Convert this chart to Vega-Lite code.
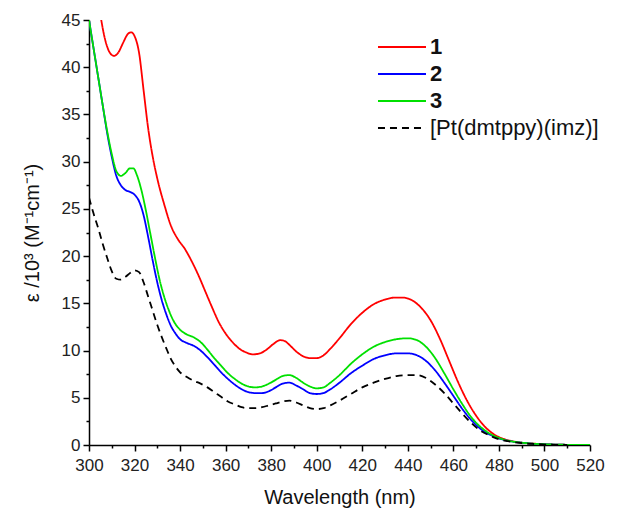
{
  "$schema": "https://vega.github.io/schema/vega-lite/v6.json",
  "width": 501,
  "height": 425,
  "autosize": "none",
  "padding": {"left": 89, "top": 20, "right": 42, "bottom": 67},
  "background": "white",
  "config": {
    "view": {"stroke": null},
    "axis": {
      "domainColor": "black", "domainWidth": 1.5, "tickColor": "black", "tickWidth": 1.5,
      "labelColor": "#222", "labelFont": "Liberation Sans", "labelFontSize": 17,
      "titleFont": "Liberation Sans", "titleFontSize": 20, "titleFontWeight": "normal", "titleColor": "#111",
      "grid": false
    },
    "legend": {"labelFont": "Liberation Sans", "labelFontSize": 22, "labelColor": "#111", "labelLimit": 300}
  },
  "data": {"values": [
    {"s":"1","x":302,"y":50},{"s":"1","x":305,"y":45.5},{"s":"1","x":307,"y":43},{"s":"1","x":309,"y":41.6},{"s":"1","x":311,"y":41.2},{"s":"1","x":313,"y":41.6},{"s":"1","x":315,"y":42.6},{"s":"1","x":317,"y":43.5},{"s":"1","x":318.5,"y":43.7},{"s":"1","x":320,"y":43.3},{"s":"1","x":322,"y":41.5},{"s":"1","x":324,"y":37.5},{"s":"1","x":326,"y":33.5},{"s":"1","x":328,"y":30.5},{"s":"1","x":330,"y":28.2},{"s":"1","x":333,"y":25.5},{"s":"1","x":336,"y":23.2},{"s":"1","x":339,"y":21.8},{"s":"1","x":342,"y":20.8},{"s":"1","x":345,"y":19.5},{"s":"1","x":348,"y":18},{"s":"1","x":351,"y":16.3},{"s":"1","x":354,"y":14.6},{"s":"1","x":357,"y":13},{"s":"1","x":360,"y":11.8},{"s":"1","x":363,"y":10.9},{"s":"1","x":366,"y":10.2},{"s":"1","x":369,"y":9.8},{"s":"1","x":372,"y":9.6},{"s":"1","x":375,"y":9.7},{"s":"1","x":378,"y":10.1},{"s":"1","x":381,"y":10.7},{"s":"1","x":384,"y":11.1},{"s":"1","x":386,"y":11.0},{"s":"1","x":388,"y":10.6},{"s":"1","x":391,"y":9.9},{"s":"1","x":394,"y":9.4},{"s":"1","x":397,"y":9.2},{"s":"1","x":400,"y":9.2},{"s":"1","x":403,"y":9.5},{"s":"1","x":406,"y":10.2},{"s":"1","x":410,"y":11.3},{"s":"1","x":415,"y":12.8},{"s":"1","x":420,"y":14.0},{"s":"1","x":425,"y":14.9},{"s":"1","x":430,"y":15.4},{"s":"1","x":434,"y":15.6},{"s":"1","x":438,"y":15.6},{"s":"1","x":442,"y":15.3},{"s":"1","x":446,"y":14.5},{"s":"1","x":450,"y":13.2},{"s":"1","x":454,"y":11.3},{"s":"1","x":458,"y":9.0},{"s":"1","x":462,"y":6.7},{"s":"1","x":466,"y":4.7},{"s":"1","x":470,"y":3.1},{"s":"1","x":474,"y":1.9},{"s":"1","x":478,"y":1.1},{"s":"1","x":482,"y":0.65},{"s":"1","x":486,"y":0.4},{"s":"1","x":490,"y":0.25},{"s":"1","x":495,"y":0.15},{"s":"1","x":500,"y":0.08},{"s":"1","x":505,"y":0.04},{"s":"1","x":510,"y":0.02},{"s":"1","x":515,"y":0},{"s":"1","x":520,"y":0},
    {"s":"2","x":300,"y":45},{"s":"2","x":302,"y":42},{"s":"2","x":304,"y":39},{"s":"2","x":306,"y":36},{"s":"2","x":308,"y":33},{"s":"2","x":310,"y":30.5},{"s":"2","x":312,"y":28.5},{"s":"2","x":314,"y":27.5},{"s":"2","x":316,"y":27.0},{"s":"2","x":318,"y":26.8},{"s":"2","x":320,"y":26.5},{"s":"2","x":322,"y":25.8},{"s":"2","x":324,"y":24.3},{"s":"2","x":326,"y":22},{"s":"2","x":328,"y":19.5},{"s":"2","x":330,"y":17.2},{"s":"2","x":332,"y":15.3},{"s":"2","x":334,"y":13.8},{"s":"2","x":336,"y":12.6},{"s":"2","x":338,"y":11.8},{"s":"2","x":340,"y":11.2},{"s":"2","x":343,"y":10.8},{"s":"2","x":346,"y":10.5},{"s":"2","x":349,"y":10.0},{"s":"2","x":352,"y":9.3},{"s":"2","x":355,"y":8.5},{"s":"2","x":358,"y":7.7},{"s":"2","x":361,"y":7.0},{"s":"2","x":364,"y":6.4},{"s":"2","x":367,"y":5.9},{"s":"2","x":370,"y":5.6},{"s":"2","x":373,"y":5.5},{"s":"2","x":376,"y":5.5},{"s":"2","x":379,"y":5.7},{"s":"2","x":382,"y":6.1},{"s":"2","x":385,"y":6.5},{"s":"2","x":388,"y":6.6},{"s":"2","x":391,"y":6.3},{"s":"2","x":394,"y":5.9},{"s":"2","x":397,"y":5.5},{"s":"2","x":400,"y":5.4},{"s":"2","x":403,"y":5.5},{"s":"2","x":406,"y":5.9},{"s":"2","x":410,"y":6.6},{"s":"2","x":415,"y":7.6},{"s":"2","x":420,"y":8.4},{"s":"2","x":425,"y":9.1},{"s":"2","x":430,"y":9.5},{"s":"2","x":435,"y":9.7},{"s":"2","x":440,"y":9.7},{"s":"2","x":444,"y":9.5},{"s":"2","x":448,"y":8.9},{"s":"2","x":452,"y":7.9},{"s":"2","x":456,"y":6.6},{"s":"2","x":460,"y":5.2},{"s":"2","x":464,"y":3.8},{"s":"2","x":468,"y":2.6},{"s":"2","x":472,"y":1.7},{"s":"2","x":476,"y":1.1},{"s":"2","x":480,"y":0.7},{"s":"2","x":484,"y":0.45},{"s":"2","x":488,"y":0.3},{"s":"2","x":492,"y":0.2},{"s":"2","x":496,"y":0.12},{"s":"2","x":500,"y":0.08},{"s":"2","x":505,"y":0.04},{"s":"2","x":510,"y":0.02},{"s":"2","x":515,"y":0},{"s":"2","x":520,"y":0},
    {"s":"3","x":300,"y":45},{"s":"3","x":302,"y":42},{"s":"3","x":304,"y":39},{"s":"3","x":306,"y":36},{"s":"3","x":308,"y":33.2},{"s":"3","x":310,"y":30.8},{"s":"3","x":312,"y":29.0},{"s":"3","x":314,"y":28.5},{"s":"3","x":316,"y":28.8},{"s":"3","x":318,"y":29.3},{"s":"3","x":319.5,"y":29.3},{"s":"3","x":321,"y":28.6},{"s":"3","x":323,"y":27},{"s":"3","x":325,"y":24.8},{"s":"3","x":327,"y":22.3},{"s":"3","x":329,"y":19.8},{"s":"3","x":331,"y":17.5},{"s":"3","x":333,"y":15.7},{"s":"3","x":335,"y":14.3},{"s":"3","x":337,"y":13.2},{"s":"3","x":340,"y":12.2},{"s":"3","x":343,"y":11.7},{"s":"3","x":346,"y":11.4},{"s":"3","x":349,"y":10.9},{"s":"3","x":352,"y":10.1},{"s":"3","x":355,"y":9.2},{"s":"3","x":358,"y":8.4},{"s":"3","x":361,"y":7.6},{"s":"3","x":364,"y":7.0},{"s":"3","x":367,"y":6.5},{"s":"3","x":370,"y":6.2},{"s":"3","x":373,"y":6.1},{"s":"3","x":376,"y":6.2},{"s":"3","x":379,"y":6.5},{"s":"3","x":382,"y":6.9},{"s":"3","x":385,"y":7.3},{"s":"3","x":388,"y":7.4},{"s":"3","x":391,"y":7.1},{"s":"3","x":394,"y":6.6},{"s":"3","x":397,"y":6.2},{"s":"3","x":400,"y":6.0},{"s":"3","x":403,"y":6.1},{"s":"3","x":406,"y":6.6},{"s":"3","x":410,"y":7.4},{"s":"3","x":415,"y":8.6},{"s":"3","x":420,"y":9.6},{"s":"3","x":425,"y":10.4},{"s":"3","x":430,"y":10.9},{"s":"3","x":435,"y":11.2},{"s":"3","x":440,"y":11.3},{"s":"3","x":444,"y":11.1},{"s":"3","x":448,"y":10.4},{"s":"3","x":452,"y":9.2},{"s":"3","x":456,"y":7.6},{"s":"3","x":460,"y":5.9},{"s":"3","x":464,"y":4.3},{"s":"3","x":468,"y":2.9},{"s":"3","x":472,"y":1.9},{"s":"3","x":476,"y":1.2},{"s":"3","x":480,"y":0.75},{"s":"3","x":484,"y":0.45},{"s":"3","x":488,"y":0.3},{"s":"3","x":492,"y":0.2},{"s":"3","x":496,"y":0.12},{"s":"3","x":500,"y":0.08},{"s":"3","x":505,"y":0.04},{"s":"3","x":510,"y":0.02},{"s":"3","x":515,"y":0},{"s":"3","x":520,"y":0},
    {"s":"[Pt(dmtppy)(imz)]","x":300,"y":26.2},{"s":"[Pt(dmtppy)(imz)]","x":302,"y":24.5},{"s":"[Pt(dmtppy)(imz)]","x":304,"y":23},{"s":"[Pt(dmtppy)(imz)]","x":306,"y":21.3},{"s":"[Pt(dmtppy)(imz)]","x":308,"y":19.8},{"s":"[Pt(dmtppy)(imz)]","x":310,"y":18.4},{"s":"[Pt(dmtppy)(imz)]","x":312,"y":17.6},{"s":"[Pt(dmtppy)(imz)]","x":314,"y":17.5},{"s":"[Pt(dmtppy)(imz)]","x":316,"y":17.8},{"s":"[Pt(dmtppy)(imz)]","x":318,"y":18.2},{"s":"[Pt(dmtppy)(imz)]","x":320,"y":18.5},{"s":"[Pt(dmtppy)(imz)]","x":322,"y":18.3},{"s":"[Pt(dmtppy)(imz)]","x":324,"y":17.2},{"s":"[Pt(dmtppy)(imz)]","x":326,"y":15.7},{"s":"[Pt(dmtppy)(imz)]","x":328,"y":14.2},{"s":"[Pt(dmtppy)(imz)]","x":330,"y":12.7},{"s":"[Pt(dmtppy)(imz)]","x":332,"y":11.4},{"s":"[Pt(dmtppy)(imz)]","x":334,"y":10.2},{"s":"[Pt(dmtppy)(imz)]","x":336,"y":9.1},{"s":"[Pt(dmtppy)(imz)]","x":338,"y":8.3},{"s":"[Pt(dmtppy)(imz)]","x":340,"y":7.7},{"s":"[Pt(dmtppy)(imz)]","x":343,"y":7.2},{"s":"[Pt(dmtppy)(imz)]","x":346,"y":6.8},{"s":"[Pt(dmtppy)(imz)]","x":349,"y":6.5},{"s":"[Pt(dmtppy)(imz)]","x":352,"y":6.1},{"s":"[Pt(dmtppy)(imz)]","x":355,"y":5.6},{"s":"[Pt(dmtppy)(imz)]","x":358,"y":5.1},{"s":"[Pt(dmtppy)(imz)]","x":361,"y":4.6},{"s":"[Pt(dmtppy)(imz)]","x":364,"y":4.3},{"s":"[Pt(dmtppy)(imz)]","x":367,"y":4.0},{"s":"[Pt(dmtppy)(imz)]","x":370,"y":3.9},{"s":"[Pt(dmtppy)(imz)]","x":373,"y":3.9},{"s":"[Pt(dmtppy)(imz)]","x":376,"y":4.0},{"s":"[Pt(dmtppy)(imz)]","x":379,"y":4.2},{"s":"[Pt(dmtppy)(imz)]","x":382,"y":4.4},{"s":"[Pt(dmtppy)(imz)]","x":385,"y":4.6},{"s":"[Pt(dmtppy)(imz)]","x":388,"y":4.7},{"s":"[Pt(dmtppy)(imz)]","x":391,"y":4.5},{"s":"[Pt(dmtppy)(imz)]","x":394,"y":4.2},{"s":"[Pt(dmtppy)(imz)]","x":397,"y":3.9},{"s":"[Pt(dmtppy)(imz)]","x":400,"y":3.8},{"s":"[Pt(dmtppy)(imz)]","x":403,"y":3.9},{"s":"[Pt(dmtppy)(imz)]","x":406,"y":4.2},{"s":"[Pt(dmtppy)(imz)]","x":410,"y":4.7},{"s":"[Pt(dmtppy)(imz)]","x":415,"y":5.4},{"s":"[Pt(dmtppy)(imz)]","x":420,"y":6.1},{"s":"[Pt(dmtppy)(imz)]","x":425,"y":6.6},{"s":"[Pt(dmtppy)(imz)]","x":430,"y":7.0},{"s":"[Pt(dmtppy)(imz)]","x":435,"y":7.3},{"s":"[Pt(dmtppy)(imz)]","x":440,"y":7.4},{"s":"[Pt(dmtppy)(imz)]","x":444,"y":7.4},{"s":"[Pt(dmtppy)(imz)]","x":448,"y":7.1},{"s":"[Pt(dmtppy)(imz)]","x":452,"y":6.4},{"s":"[Pt(dmtppy)(imz)]","x":456,"y":5.5},{"s":"[Pt(dmtppy)(imz)]","x":460,"y":4.4},{"s":"[Pt(dmtppy)(imz)]","x":464,"y":3.3},{"s":"[Pt(dmtppy)(imz)]","x":468,"y":2.3},{"s":"[Pt(dmtppy)(imz)]","x":472,"y":1.5},{"s":"[Pt(dmtppy)(imz)]","x":476,"y":1.0},{"s":"[Pt(dmtppy)(imz)]","x":480,"y":0.6},{"s":"[Pt(dmtppy)(imz)]","x":484,"y":0.4},{"s":"[Pt(dmtppy)(imz)]","x":488,"y":0.25},{"s":"[Pt(dmtppy)(imz)]","x":492,"y":0.15},{"s":"[Pt(dmtppy)(imz)]","x":496,"y":0.1},{"s":"[Pt(dmtppy)(imz)]","x":500,"y":0.05},{"s":"[Pt(dmtppy)(imz)]","x":505,"y":0.02},{"s":"[Pt(dmtppy)(imz)]","x":510,"y":0}
  ]},
  "mark": {"type": "line", "strokeWidth": 1.8, "clip": true, "interpolate": "monotone"},
  "encoding": {
    "x": {
      "field": "x", "type": "quantitative",
      "scale": {"domain": [300, 520], "nice": false, "zero": false},
      "axis": {
        "title": "Wavelength (nm)",
        "values": [300,310,320,330,340,350,360,370,380,390,400,410,420,430,440,450,460,470,480,490,500,510,520],
        "labelExpr": "datum.value % 20 === 0 ? datum.label : ''",
        "tickSize": {"condition": {"test": "datum.value % 20 === 0", "value": 6}, "value": 3},
        "labelPadding": 6, "titlePadding": 14, "labelFlush": false
      }
    },
    "y": {
      "field": "y", "type": "quantitative",
      "scale": {"domain": [0, 45], "nice": false},
      "axis": {
        "title": "ε /10³ (M⁻¹cm⁻¹)",
        "values": [0,2.5,5,7.5,10,12.5,15,17.5,20,22.5,25,27.5,30,32.5,35,37.5,40,42.5,45],
        "labelExpr": "datum.value % 5 === 0 ? datum.label : ''",
        "tickSize": {"condition": {"test": "datum.value % 5 === 0", "value": 6}, "value": 3},
        "labelPadding": 3, "titlePadding": 19, "labelFlush": false
      }
    },
    "color": {
      "field": "s", "type": "nominal",
      "scale": {"domain": ["1","2","3","[Pt(dmtppy)(imz)]"], "range": ["#ff0000","#0000ff","#00e000","#000000"]},
      "legend": {
        "title": null, "orient": "none", "legendX": 302, "legendY": 16,
        "symbolType": "M-2.5,0H2.5", "symbolSize": 369, "symbolStrokeWidth": 2,
        "labelFontWeight": {"expr": "datum.value === '[Pt(dmtppy)(imz)]' ? 'normal' : 'bold'"},
        "rowPadding": 5, "labelOffset": 17, "labelLimit": 300
      }
    },
    "strokeDash": {
      "field": "s", "type": "nominal",
      "scale": {"domain": ["1","2","3","[Pt(dmtppy)(imz)]"], "range": [[1,0],[1,0],[1,0],[7,5]]},
      "legend": {
        "title": null, "orient": "none", "legendX": 302, "legendY": 16,
        "symbolType": "M-2.5,0H2.5", "symbolSize": 369, "symbolStrokeWidth": 2,
        "labelFontWeight": {"expr": "datum.value === '[Pt(dmtppy)(imz)]' ? 'normal' : 'bold'"},
        "rowPadding": 5, "labelOffset": 17, "labelLimit": 300
      }
    }
  }
}
